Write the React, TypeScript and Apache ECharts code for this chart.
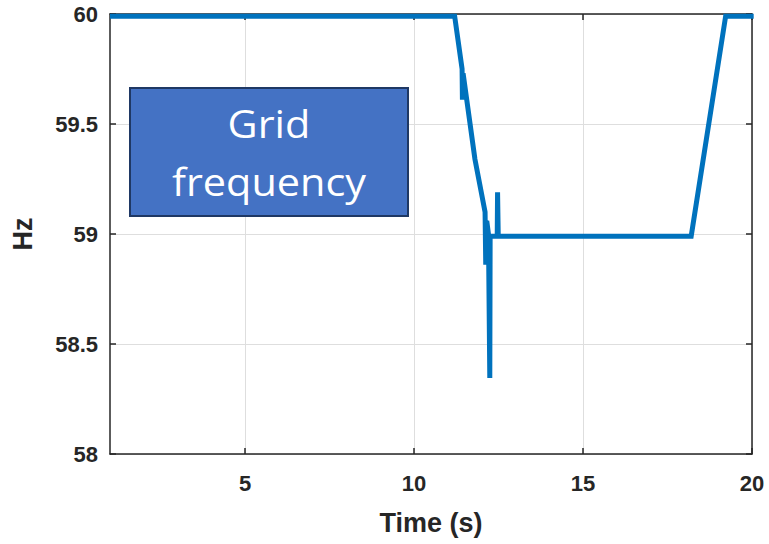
import React, { useEffect, useRef } from "react";
import * as echarts from "echarts";

const timeSec: number[] = [
  1.0, 11.2, 11.42, 11.43, 11.45, 11.8, 12.1, 12.12, 12.15, 12.2, 12.24, 12.25, 12.3, 12.46, 12.47, 12.49, 18.2, 19.22, 20.05,
];
const freqHz: number[] = [
  59.99, 59.99, 59.75, 59.61, 59.73, 59.34, 59.1, 58.86, 59.06, 59.0, 58.345, 58.99, 58.99, 58.99, 59.19, 58.99, 58.99, 59.99, 59.99,
];
const xTicks: number[] = [5, 10, 15, 20];
const axisColor = "#262626";
const gridColor = "#dedede";
const lineColor = "#0072BD";

export default function App() {
  const ref = useRef<HTMLDivElement>(null);
  useEffect(() => {
    document.body.style.margin = "0";
    if (!ref.current) return;
    const chart = echarts.init(ref.current, null, { renderer: "svg" });
    const labelFont = {
      fontFamily: "Liberation Sans, Arial, sans-serif",
      fontWeight: "bold" as const,
      fontSize: 22,
      color: axisColor,
    };
    const data = timeSec.map((t, i) => [t, freqHz[i]]);
    chart.setOption({
      animation: false,
      backgroundColor: "#ffffff",
      grid: { left: 110, right: 17, top: 14, bottom: 90, containLabel: false, outerBoundsMode: "none" },
      xAxis: [
        {
          type: "value",
          min: 1,
          max: 20,
          position: "bottom",
          name: "Time (s)",
          nameLocation: "middle",
          nameGap: 55,
          nameTextStyle: { ...labelFont, fontSize: 27 },
          axisLine: { show: true, onZero: false, lineStyle: { color: axisColor, width: 1.5 } },
          axisTick: { show: true, inside: true, length: 6, customValues: xTicks, lineStyle: { color: axisColor, width: 1.5 } },
          axisLabel: { ...labelFont, customValues: xTicks, margin: 18 },
          splitLine: { show: true, lineStyle: { color: gridColor, width: 1 } },
        },
        {
          type: "value",
          min: 1,
          max: 20,
          position: "top",
          axisLine: { show: true, onZero: false, lineStyle: { color: axisColor, width: 1.5 } },
          axisTick: { show: true, inside: true, length: 6, customValues: xTicks, lineStyle: { color: axisColor, width: 1.5 } },
          axisLabel: { show: false, customValues: xTicks },
          splitLine: { show: false },
        },
      ],
      yAxis: [
        {
          type: "value",
          min: 58,
          max: 60,
          interval: 0.5,
          position: "left",
          name: "Hz",
          nameLocation: "middle",
          nameGap: 74,
          nameRotate: 90,
          nameTextStyle: { ...labelFont, fontSize: 27 },
          axisLine: { show: true, onZero: false, lineStyle: { color: axisColor, width: 1.5 } },
          axisTick: { show: true, inside: true, length: 6, lineStyle: { color: axisColor, width: 1.5 } },
          axisLabel: { ...labelFont, margin: 12 },
          splitLine: { show: true, lineStyle: { color: gridColor, width: 1 } },
        },
        {
          type: "value",
          min: 58,
          max: 60,
          interval: 0.5,
          position: "right",
          axisLine: { show: true, onZero: false, lineStyle: { color: axisColor, width: 1.5 } },
          axisTick: { show: true, inside: true, length: 6, lineStyle: { color: axisColor, width: 1.5 } },
          axisLabel: { show: false },
          splitLine: { show: false },
        },
      ],
      series: [
        {
          type: "line",
          xAxisIndex: 0,
          yAxisIndex: 0,
          data,
          showSymbol: false,
          clip: false,
          lineStyle: { color: lineColor, width: 5, join: "miter" },
          z: 5,
        },
      ],
      graphic: [
        {
          type: "rect",
          shape: { x: 130, y: 88, width: 278, height: 128 },
          style: { fill: "#4472C4", stroke: "#1F3864", lineWidth: 2 },
          z: 10,
        },
        {
          type: "text",
          x: 269,
          y: 153,
          scaleX: 1.09,
          style: {
            text: "Grid\nfrequency",
            fill: "#ffffff",
            fontFamily: "Open Sans, Lato, sans-serif",
            fontSize: 38,
            lineHeight: 58,
            align: "center",
            verticalAlign: "middle",
          },
          z: 11,
        },
      ],
    });
    return () => chart.dispose();
  }, []);
  return <div ref={ref} style={{ width: 769, height: 544 }} />;
}
